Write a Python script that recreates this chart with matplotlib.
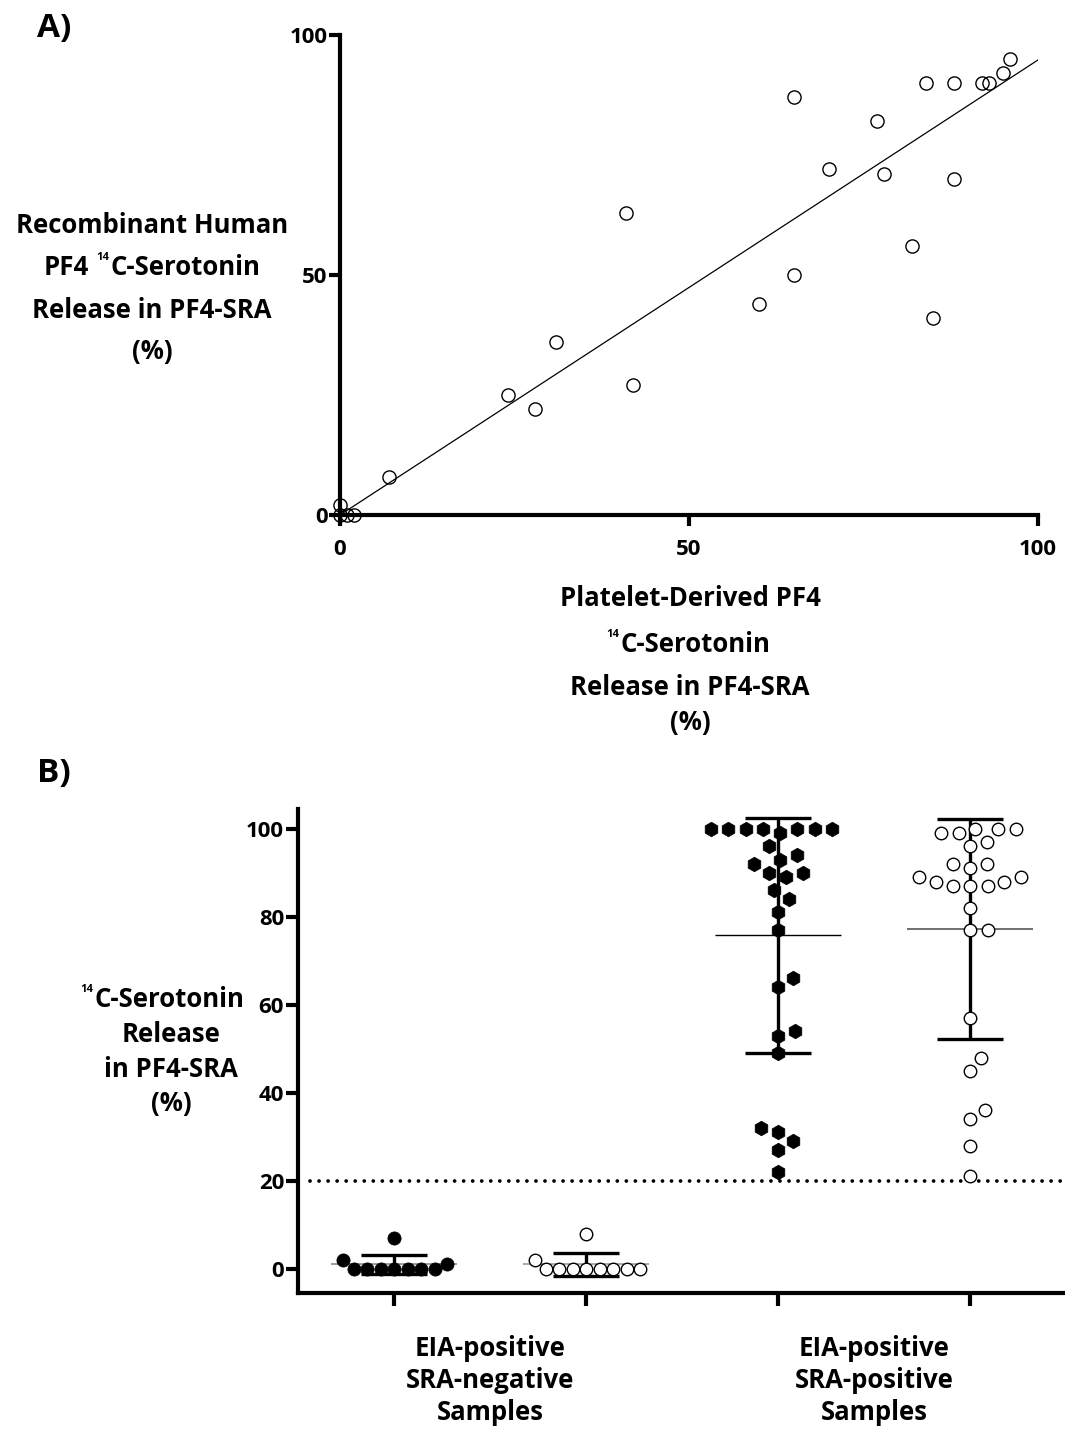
import numpy as np
import matplotlib
matplotlib.use("Agg")
import matplotlib.pyplot as plt

plt.rcParams['font.family'] = ['Open Sans', 'DejaVu Sans']
plt.rcParams['font.weight'] = 'bold'

# ---------------- data ----------------
# Panel A: platelet-derived PF4 (x) vs recombinant human PF4 (y), % release
a_platelet = [0, 0, 1, 2, 7, 24, 28, 31, 41, 42, 60, 65, 65, 70, 77, 78, 82, 84, 85, 88, 88, 92, 93, 95, 96]
a_recomb   = [2, 0, 0, 0, 8, 25, 22, 36, 63, 27, 44, 50, 87, 72, 82, 71, 56, 90, 41, 90, 70, 90, 90, 92, 95]
a_fit_slope = 0.948
a_fit_intercept = 0.0

# Panel B: 14C-serotonin release per group
g1_filled_neg = [7, 2, 0, 0, 0, 0, 0, 0, 0, 1]
g2_open_neg   = [8, 2, 0, 0, 0, 0, 0, 0, 0, 0]
g3_filled_pos = [100, 100, 100, 100, 100, 100, 100, 99, 96, 93, 94, 92, 90, 90, 89, 86, 84, 81, 77,
                 66, 64, 54, 53, 49, 32, 31, 29, 27, 22]
g4_open_pos   = [100, 100, 99, 99, 100, 96, 97, 92, 92, 91, 89, 88, 87, 87, 87, 88, 89, 82, 77, 77,
                 57, 48, 45, 34, 36, 28, 21]
b_threshold = 20
b_group_labels = ["EIA-positive\nSRA-negative\nSamples", "EIA-positive\nSRA-positive\nSamples"]
a_ticks = [0, 50, 100]
b_yticks = [0, 20, 40, 60, 80, 100]

W, H = 1065, 1433
fig = plt.figure(figsize=(W / 100, H / 100), dpi=100)
LBL = 18.5
TCK = 16
SUP = 8

# ---------------- panel A ----------------
axA = fig.add_axes([340 / W, 1 - 515 / H, 698 / W, 480 / H])
axA.set_xlim(0, 100)
axA.set_ylim(0, 100)
for s in ['top', 'right']:
    axA.spines[s].set_visible(False)
for s in ['left', 'bottom']:
    axA.spines[s].set_linewidth(3.0)
axA.set_xticks(a_ticks)
axA.set_yticks(a_ticks)
axA.tick_params(axis='both', direction='out', length=8, width=3.0, labelsize=TCK)
axA.tick_params(axis='x', pad=9)
axA.tick_params(axis='y', pad=1)
xa = np.array(a_platelet, float)
ya = np.array(a_recomb, float)
xl = np.array([0.0, 100.0])
axA.plot(xl, a_fit_intercept + a_fit_slope * xl, color='black', lw=0.9, zorder=2)
axA.plot(xa, ya, 'o', mfc='none', mec='black', ms=9.5, mew=1.0, clip_on=False, zorder=3)

# ---------------- panel B ----------------
axB = fig.add_axes([298 / W, 1 - 1293 / H, 768 / W, 484 / H])
axB.set_xlim(-0.5, 3.5)
axB.set_ylim(-5.5, 104.5)
for s in ['top', 'right']:
    axB.spines[s].set_visible(False)
for s in ['left', 'bottom']:
    axB.spines[s].set_linewidth(3.0)
axB.set_yticks(b_yticks)
axB.set_xticks([0, 1, 2, 3])
axB.set_xticklabels([])
axB.tick_params(axis='both', direction='out', length=9, width=3.0, labelsize=TCK)
axB.tick_params(axis='y', pad=1)
axB.set_xticks([0.5, 2.5], labels=b_group_labels, minor=True)
axB.tick_params(axis='x', which='minor', length=0, pad=30, labelsize=LBL)
for t in axB.get_xticklabels(minor=True):
    t.set_linespacing(1.25)

axB.axhline(b_threshold, xmin=0.015, xmax=1, color='black', lw=2.7,
            ls=(0, (0.01, 2.4)), dash_capstyle='round', zorder=1)

# pixel scale for swarm layout
px_per_y = 484 / (104.5 + 5.5)
px_per_x = 768 / 4.0


def swarm(vals, d):
    vals = np.asarray(vals, float)
    ypx = vals * px_per_y
    order = np.argsort(ypx, kind='stable')
    placed = []
    xs = np.zeros(len(vals))
    for i in order:
        y = ypx[i]
        cands = [0.0]
        for (xj, yj) in placed:
            dy = abs(y - yj)
            if dy < d:
                dx = np.sqrt(d * d - dy * dy)
                cands += [xj + dx, xj - dx]
        cands = sorted(cands, key=lambda c: (round(abs(c), 6), -c))
        for c in cands:
            if all((c - xj) ** 2 + (y - yj) ** 2 >= d * d - 1e-6 for (xj, yj) in placed):
                xs[i] = c
                placed.append((c, y))
                break
    return xs / px_per_x


groups = [
    (g1_filled_neg, 0, dict(marker='o', mfc='black', mec='black', ms=9.5, mew=0.5), 13.5, '#8a8a8a', 1.2),
    (g2_open_neg, 1, dict(marker='o', mfc='white', mec='black', ms=9.0, mew=1.0), 13.5, '#9a9a9a', 1.2),
    (g3_filled_pos, 2, dict(marker='h', mfc='black', mec='black', ms=10.5, mew=0.5), 17.5, 'black', 1.0),
    (g4_open_pos, 3, dict(marker='o', mfc='white', mec='black', ms=9.0, mew=1.0), 17.5, '#707070', 1.4),
]
for vals, xc, style, d, mcol, mlw in groups:
    v = np.array(vals, float)
    m = v.mean()
    sd = v.std(ddof=1)
    axB.errorbar([xc], [m], yerr=[sd], fmt='none', ecolor='black', elinewidth=2.4,
                 capsize=24, capthick=2.4, zorder=2)
    axB.hlines(m, xc - 0.33, xc + 0.33, color=mcol, lw=mlw, zorder=2)
    offs = swarm(v, d)
    axB.plot(xc + offs, v, ls='none', zorder=3, clip_on=False, **style)

# ---------------- rich text helpers ----------------
fig.canvas.draw()
rend = fig.canvas.get_renderer()


def rich_line(xc, yb, runs):
    """runs: list of (text, size, rise_px, gap_after_px); centred at xc (px), baseline yb (px from top)."""
    ts = []
    widths = []
    for s, size, rise, gap in runs:
        t = fig.text(0, 0, s, fontsize=size, fontweight='bold', ha='left', va='baseline')
        ts.append(t)
        widths.append(t.get_window_extent(rend).width + gap)
    total = sum(widths)
    x = xc - total / 2
    for t, w, (s, size, rise, gap) in zip(ts, widths, runs):
        t.set_position((x / W, (H - yb + rise) / H))
        x += w


# panel A y label
rich_line(152, 233, [("Recombinant Human", LBL, 0, 0)])
rich_line(152, 275, [("PF4", LBL, 0, 8), ("14", SUP, 15, 1), ("C-Serotonin", LBL, 0, 0)])
rich_line(152, 318, [("Release in PF4-SRA", LBL, 0, 0)])
rich_line(152, 359, [("(%)", LBL, 0, 0)])
# panel A x label
rich_line(690, 606, [("Platelet-Derived PF4", LBL, 0, 0)])
rich_line(688, 652, [("14", SUP, 15, 1), ("C-Serotonin", LBL, 0, 0)])
rich_line(690, 695, [("Release in PF4-SRA", LBL, 0, 0)])
rich_line(690, 730, [("(%)", LBL, 0, 0)])
# panel B y label
rich_line(162, 1007, [("14", SUP, 15, 1), ("C-Serotonin", LBL, 0, 0)])
rich_line(171, 1042, [("Release", LBL, 0, 0)])
rich_line(171, 1077, [("in PF4-SRA", LBL, 0, 0)])
rich_line(171, 1111, [("(%)", LBL, 0, 0)])

# panel letters
fig.text(37 / W, 1 - 37 / H, "A)", fontsize=24, fontweight='bold', ha='left', va='baseline')
fig.text(37 / W, 1 - 782 / H, "B)", fontsize=24, fontweight='bold', ha='left', va='baseline')

fig.savefig("out.png", dpi=100)
